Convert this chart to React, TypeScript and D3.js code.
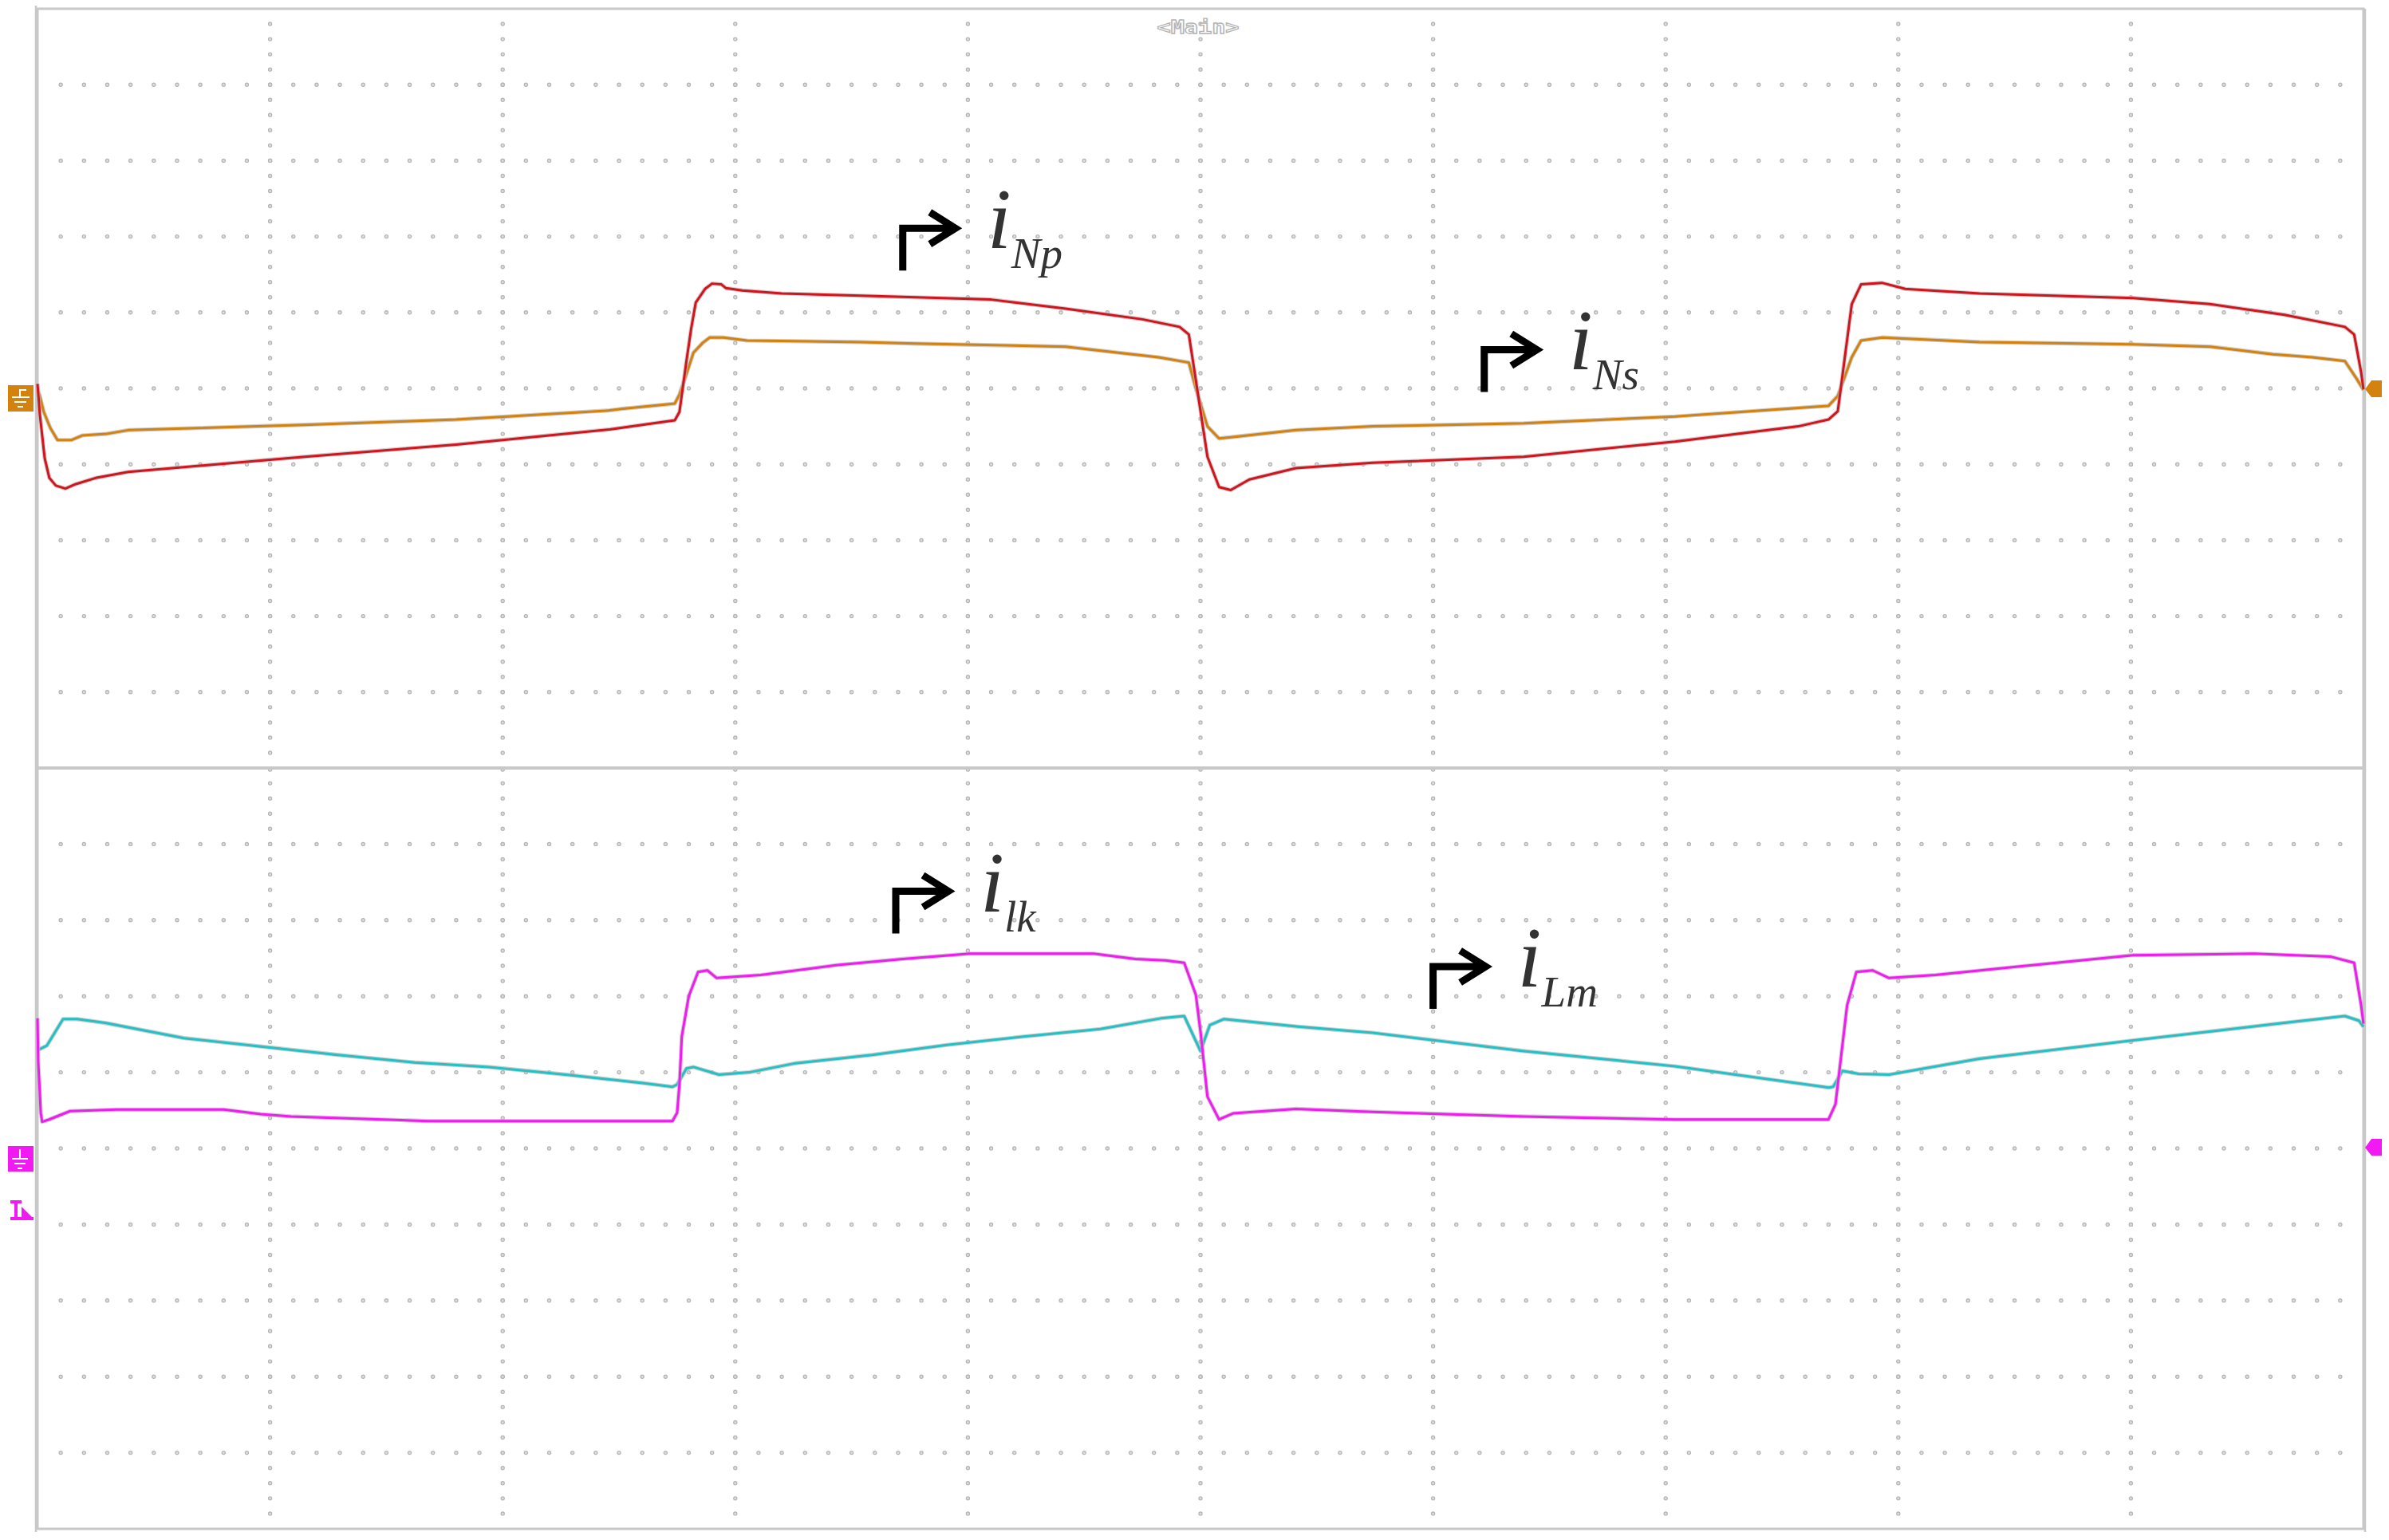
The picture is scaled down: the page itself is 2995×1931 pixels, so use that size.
import React from "react";
import * as d3 from "d3";

// time in divisions (0..10), value in divisions (each panel -5..5)
const iNp: [number, number][] = [
  [0.0, 0.06], [0.01, -0.34], [0.031, -0.92], [0.051, -1.18], [0.079, -1.28], [0.12, -1.32],
  [0.165, -1.26], [0.25, -1.18], [0.39, -1.1], [1.15, -0.9], [1.8, -0.74], [2.46, -0.54],
  [2.74, -0.42], [2.76, -0.31], [2.79, 0.36], [2.81, 0.78], [2.83, 1.13], [2.87, 1.31],
  [2.9, 1.38], [2.94, 1.37], [2.96, 1.32], [3.03, 1.29], [3.2, 1.25], [3.54, 1.22],
  [4.1, 1.17], [4.42, 1.05], [4.75, 0.91], [4.91, 0.81], [4.95, 0.71], [4.98, 0.11],
  [5.03, -0.9], [5.08, -1.3], [5.13, -1.34], [5.21, -1.2], [5.41, -1.05], [5.74, -0.98],
  [6.39, -0.9], [7.04, -0.7], [7.57, -0.5], [7.7, -0.41], [7.74, -0.3], [7.8, 1.11],
  [7.84, 1.37], [7.93, 1.39], [8.03, 1.31], [8.35, 1.25], [9.01, 1.19], [9.34, 1.11],
  [9.66, 0.97], [9.92, 0.81], [9.96, 0.71], [9.99, 0.21], [10.0, -0.01],
];

const iNs: [number, number][] = [
  [0.0, -0.02], [0.01, -0.1], [0.027, -0.31], [0.055, -0.52], [0.086, -0.68], [0.147, -0.68],
  [0.192, -0.62], [0.295, -0.6], [0.39, -0.55], [1.15, -0.48], [1.8, -0.41], [2.46, -0.29],
  [2.51, -0.27], [2.74, -0.2], [2.76, -0.08], [2.79, 0.19], [2.82, 0.47], [2.86, 0.6],
  [2.89, 0.67], [2.95, 0.67], [3.05, 0.63], [3.54, 0.61], [3.77, 0.59], [4.42, 0.55],
  [4.82, 0.41], [4.95, 0.34], [4.98, 0.0], [5.03, -0.5], [5.08, -0.66], [5.14, -0.64],
  [5.41, -0.55], [5.74, -0.5], [6.39, -0.46], [7.04, -0.37], [7.7, -0.23], [7.74, -0.1],
  [7.8, 0.41], [7.84, 0.63], [7.93, 0.67], [8.35, 0.61], [9.01, 0.58], [9.34, 0.55],
  [9.61, 0.45], [9.78, 0.41], [9.92, 0.36], [9.97, 0.13], [10.0, -0.02],
];

const iLk: [number, number][] = [
  [0.0, 1.71], [0.003, 1.15], [0.01, 0.73], [0.014, 0.47], [0.02, 0.35], [0.05, 0.38],
  [0.14, 0.49], [0.34, 0.51], [0.8, 0.51], [0.96, 0.45], [1.09, 0.42], [1.68, 0.36],
  [2.73, 0.36], [2.75, 0.47], [2.76, 0.84], [2.77, 1.47], [2.8, 2.0], [2.84, 2.32],
  [2.88, 2.34], [2.92, 2.24], [3.11, 2.28], [3.44, 2.41], [3.72, 2.49], [4.01, 2.56],
  [4.54, 2.56], [4.72, 2.49], [4.85, 2.47], [4.93, 2.44], [4.98, 2.02], [5.0, 1.54],
  [5.03, 0.68], [5.08, 0.38], [5.14, 0.46], [5.41, 0.52], [5.74, 0.48], [6.39, 0.42],
  [7.04, 0.38], [7.7, 0.38], [7.73, 0.58], [7.78, 1.88], [7.82, 2.32], [7.89, 2.34],
  [7.96, 2.24], [8.16, 2.28], [8.68, 2.44], [9.01, 2.54], [9.53, 2.56], [9.86, 2.52],
  [9.96, 2.44], [9.99, 1.88], [10.0, 1.64],
];

const iLm: [number, number][] = [
  [0.0, 1.29], [0.04, 1.35], [0.11, 1.7], [0.17, 1.7], [0.29, 1.65], [0.63, 1.45],
  [0.96, 1.34], [1.29, 1.23], [1.62, 1.13], [1.94, 1.07], [2.27, 0.97], [2.6, 0.86],
  [2.73, 0.81], [2.75, 0.84], [2.79, 1.05], [2.82, 1.07], [2.93, 0.97], [3.06, 1.0],
  [3.26, 1.12], [3.59, 1.23], [3.91, 1.36], [4.24, 1.47], [4.57, 1.57], [4.83, 1.71],
  [4.93, 1.74], [5.0, 1.28], [5.04, 1.62], [5.1, 1.7], [5.42, 1.6], [5.74, 1.52],
  [6.39, 1.28], [7.04, 1.08], [7.7, 0.8], [7.72, 0.81], [7.76, 1.02], [7.83, 0.98],
  [7.96, 0.97], [8.35, 1.18], [9.01, 1.42], [9.66, 1.65], [9.92, 1.74], [9.98, 1.68],
  [10.0, 1.6],
];

const TRACE_COLORS = { iNp: "#d4141c", iNs: "#d4820e", iLk: "#f21af2", iLm: "#22c1c6" };

// annotation anchors (t, v) in data units, panel
const labels = [
  { main: "i", sub: "Np", t: 3.72, v: 2.11, panel: "top" },
  { main: "i", sub: "Ns", t: 6.22, v: 0.51, panel: "top" },
  { main: "i", sub: "lk", t: 3.69, v: 3.38, panel: "bottom" },
  { main: "i", sub: "Lm", t: 6.0, v: 2.39, panel: "bottom" },
];

const W = 2995;
const H = 1931;
const X0 = 47, X1 = 2963;
const TOP0 = 11, MID = 963, BOT = 1917;
const SERIF = "'Liberation Serif', 'Times New Roman', Times, serif";

export default function App() {
  const x = d3.scaleLinear().domain([0, 10]).range([X0, X1]);
  const yTop = d3.scaleLinear().domain([-5, 5]).range([MID, TOP0]);
  const yBot = d3.scaleLinear().domain([-5, 5]).range([BOT, MID]);

  const lineTop = d3.line<[number, number]>().x((d) => x(d[0])).y((d) => yTop(d[1]));
  const lineBot = d3.line<[number, number]>().x((d) => x(d[0])).y((d) => yBot(d[1]));

  const dots: { cx: number; cy: number }[] = [];
  const majors = d3.range(1, 10);
  const fineX = d3.range(1, 100).map((k) => k / 10);
  const fineY = d3.range(1, 50).map((k) => -5 + k / 5);
  for (const ys of [yTop, yBot]) {
    for (const gv of majors.map((m) => m - 5)) {
      for (const ft of fineX) dots.push({ cx: x(ft), cy: ys(gv) });
    }
    for (const gt of majors) {
      for (const fv of fineY) dots.push({ cx: x(gt), cy: ys(fv) });
    }
  }
  for (const gt of majors) dots.push({ cx: x(gt), cy: MID + 2 });

  const trace = (d: string, color: string, key: string) => (
    <g key={key}>
      <path d={d} fill="none" stroke="#b9b9b9" strokeOpacity={0.7} strokeWidth={5.2} strokeLinejoin="round" />
      <path d={d} fill="none" stroke={color} strokeWidth={3} strokeLinejoin="round" />
    </g>
  );

  return (
    <svg width={W} height={H} style={{ position: "absolute", left: 0, top: 0, background: "#fff" }}>
      <rect x={0} y={0} width={W} height={H} fill="#fff" />
      <g>
        {dots.map((p, i) => (
          <circle key={i} cx={p.cx} cy={p.cy} r={2.1} fill="#dcdcdc" stroke="#b4b4b4" strokeWidth={1.2} />
        ))}
      </g>
      <rect x={X0} y={TOP0} width={X1 - X0} height={BOT - TOP0} fill="none" stroke="#c8c8c8" strokeWidth={3} />
      <line x1={X0 - 2} x2={X0 - 2} y1={TOP0 - 4} y2={BOT + 4} stroke="#c8c8c8" strokeWidth={2.5} />
      <line x1={X1 + 2} x2={X1 + 2} y1={TOP0} y2={BOT + 4} stroke="#c8c8c8" strokeWidth={2.5} />
      <line x1={X0} x2={X1} y1={MID} y2={MID} stroke="#c8c8c8" strokeWidth={4} />

      <text x={1502} y={42} textAnchor="middle" fontFamily="DejaVu Sans Mono" fontWeight="bold" fontSize={23}
        fill="#fff" stroke="#b5b5b5" strokeWidth={1.3} textLength={103} lengthAdjust="spacingAndGlyphs">
        {"<Main>"}
      </text>

      {trace(lineTop(iNs) || "", TRACE_COLORS.iNs, "ns")}
      {trace(lineTop(iNp) || "", TRACE_COLORS.iNp, "np")}
      {trace(lineBot(iLm) || "", TRACE_COLORS.iLm, "lm")}
      {trace(lineBot(iLk) || "", TRACE_COLORS.iLk, "lk")}

      <g>
        <rect x={10} y={483} width={32} height={33} fill="#d4820e" />
        <path d="M33 489 H25 V498 M15 498 H37 M18 504 H33 M22 510 H29" stroke="#fff" strokeWidth={2} fill="none" />
        <rect x={10} y={1437} width={32} height={32} fill="#f21af2" />
        <path d="M25 1441 V1453 M15 1453 H35 M18 1459 H32 M22 1465 H28" stroke="#fff" strokeWidth={2} fill="none" />
        <path d="M13 1507 H27 M20 1507 V1528 M13 1528 H42" stroke="#f21af2" strokeWidth={4} fill="none" />
        <path d="M27 1513 L42 1528 L27 1528 Z" fill="#f21af2" />
      </g>
      <path d="M2965 488 L2973 477 L2986 477 L2986 498 L2973 498 Z" fill="#d4820e" />
      <path d="M2965 1439 L2973 1428 L2986 1428 L2986 1449 L2973 1449 Z" fill="#f21af2" />

      {labels.map((l, i) => {
        const ys = l.panel === "top" ? yTop : yBot;
        const cx = x(l.t);
        const cy = ys(l.v);
        return (
          <g key={i}>
            <path
              d={`M${cx} ${cy + 53} V${cy} H${cx + 64} M${cx + 34} ${cy - 20} L${cx + 66} ${cy} L${cx + 34} ${cy + 20}`}
              fill="none" stroke="#000" strokeWidth={9} strokeLinejoin="miter" strokeLinecap="butt"
            />
            <text x={cx + 106} y={cy + 25} style={{ fontFamily: SERIF, fontStyle: "italic", fontSize: 108 }} fill="#333">
              {l.main}
            </text>
            <text x={cx + 136} y={cy + 50} style={{ fontFamily: SERIF, fontStyle: "italic", fontSize: 55 }} fill="#333">
              {l.sub}
            </text>
          </g>
        );
      })}
    </svg>
  );
}
